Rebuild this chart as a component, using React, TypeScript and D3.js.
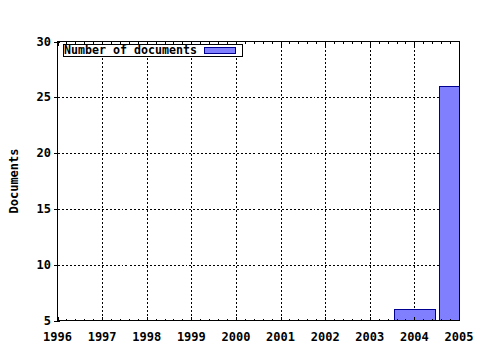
import React from "react";
import * as d3 from "d3";

const years = [1996, 1997, 1998, 1999, 2000, 2001, 2002, 2003, 2004, 2005];
const barYears = [2004, 2005];
const barValues = [6, 26];
const yTicks = [5, 10, 15, 20, 25, 30];
const legendLabel = "Number of documents";
const yTitle = "Documents";

const W = 480, H = 350;
const L = 57.5, R = 459, T = 41.5, B = 320.5;
const font = "'DejaVu Sans Mono', monospace";

export default function App() {
  const x = d3.scaleLinear().domain([1996, 2005]).range([L, R]);
  const y = d3.scaleLinear().domain([5, 30]).range([B, T]);
  const step = x(1997) - x(1996);
  const bw = step * 0.91;
  const minor: number[] = [];
  for (let i = 0; i < years.length - 1; i++) {
    for (let k = 1; k < 5; k++) minor.push(years[i] + k / 5);
  }
  return (
    <div style={{ position: "absolute", left: 0, top: 0 }}>
      <svg width={W} height={H} style={{ display: "block" }}>
        <rect width={W} height={H} fill="#fff" />
        <defs>
          <clipPath id="pc">
            <rect x={L} y={T} width={R - L} height={B - T} />
          </clipPath>
        </defs>
        {/* grid */}
        {years.slice(1, -1).map((yr) => (
          <line key={"gx" + yr} x1={Math.round(x(yr)) + 0.5} x2={Math.round(x(yr)) + 0.5} y1={T} y2={B}
            stroke="#000" strokeDasharray="2,2" shapeRendering="crispEdges" />
        ))}
        {yTicks.slice(1, -1).map((v) => (
          <line key={"gy" + v} x1={L} x2={R} y1={Math.round(y(v)) + 0.5} y2={Math.round(y(v)) + 0.5}
            stroke="#000" strokeDasharray="2,2" shapeRendering="crispEdges" />
        ))}
        {/* bars */}
        <g clipPath="url(#pc)">
          {barYears.map((yr, i) => (
            <rect key={"b" + yr} x={Math.round(x(yr) - bw / 2) + 0.5} y={Math.round(y(barValues[i])) + 0.5}
              width={Math.round(bw)} height={Math.round(B - y(barValues[i]))}
              fill="#8080ff" stroke="#000090" strokeWidth={1} shapeRendering="crispEdges" />
          ))}
        </g>
        {/* frame */}
        <rect x={L} y={T} width={R - L} height={B - T} fill="none" stroke="#000" shapeRendering="crispEdges" />
        {/* x ticks */}
        {years.map((yr) => (
          <g key={"xt" + yr}>
            <line x1={Math.round(x(yr)) + 0.5} x2={Math.round(x(yr)) + 0.5} y1={B} y2={B - 4} stroke="#000" shapeRendering="crispEdges" />
            <line x1={Math.round(x(yr)) + 0.5} x2={Math.round(x(yr)) + 0.5} y1={T} y2={T + 4} stroke="#000" shapeRendering="crispEdges" />
            <text x={x(yr)} y={341} textAnchor="middle" fontFamily={font} fontWeight="bold" fontSize={12}>{yr}</text>
          </g>
        ))}
        {minor.map((m, i) => (
          <g key={"mt" + i}>
            <line x1={Math.round(x(m)) + 0.5} x2={Math.round(x(m)) + 0.5} y1={B} y2={B - 2} stroke="#000" shapeRendering="crispEdges" />
            <line x1={Math.round(x(m)) + 0.5} x2={Math.round(x(m)) + 0.5} y1={T} y2={T + 2} stroke="#000" shapeRendering="crispEdges" />
          </g>
        ))}
        {/* y ticks */}
        {yTicks.map((v) => (
          <g key={"yt" + v}>
            <line x1={L - 4} x2={L + 2} y1={Math.round(y(v)) + 0.5} y2={Math.round(y(v)) + 0.5} stroke="#000" shapeRendering="crispEdges" />
            <text x={51} y={y(v) + 4} textAnchor="end" fontFamily={font} fontWeight="bold" fontSize={12}>{v}</text>
          </g>
        ))}
        {/* y title */}
        <text transform={`translate(18,${(T + B) / 2}) rotate(-90)`} textAnchor="middle" fontFamily={font} fontWeight="bold" fontSize={12}>{yTitle}</text>
        {/* legend */}
        <rect x={63.5} y={44.5} width={179} height={12} fill="#fff" stroke="#000" shapeRendering="crispEdges" />
        <text x={64} y={54} fontFamily={font} fontWeight="bold" fontSize={12} textLength={133} lengthAdjust="spacingAndGlyphs">{legendLabel}</text>
        <rect x={204.5} y={47.5} width={31} height={6} fill="#8080ff" stroke="#000090" shapeRendering="crispEdges" />
      </svg>
    </div>
  );
}
